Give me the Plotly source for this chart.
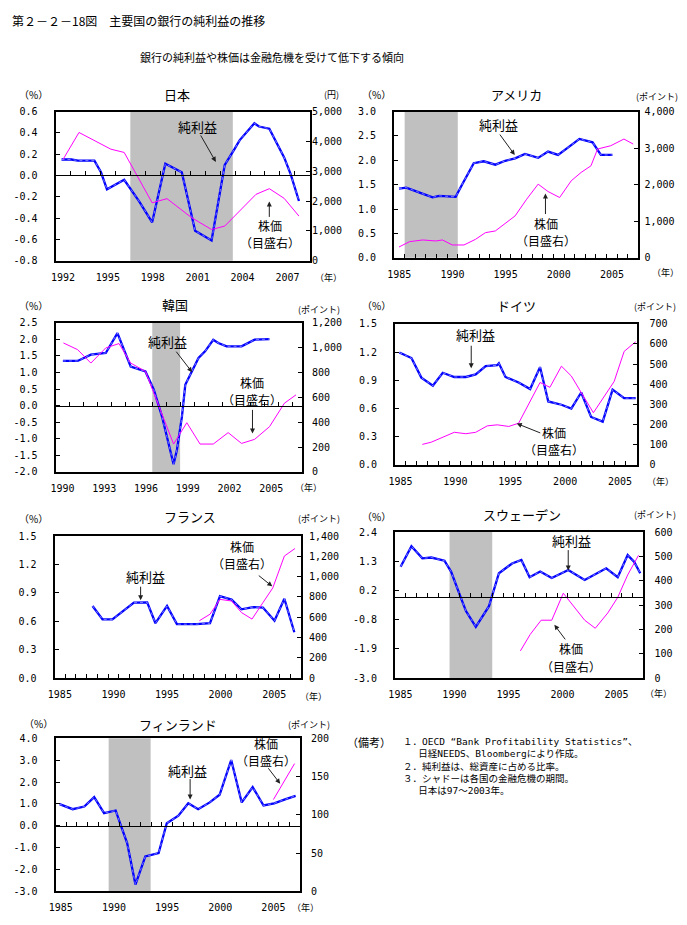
import plotly.graph_objects as go

W, H = 687, 925

# ---------------- data ----------------
# 日本  純利益 (%), 株価 (円)
jp_np_x = [1991.9, 1992.56, 1993.0, 1994.1, 1994.54, 1994.94, 1996.09, 1997.08, 1997.96, 1998.84, 1999.94,
           2000.83, 2001.93, 2002.81, 2003.47, 2003.8, 2004.79, 2005.1, 2005.79, 2006.78, 2007.22, 2007.77]
jp_np_y = [0.15, 0.15, 0.14, 0.14, 0.03, -0.13, -0.04, -0.24, -0.44, 0.11, 0.03,
           -0.52, -0.61, 0.10, 0.25, 0.33, 0.49, 0.46, 0.44, 0.17, 0.01, -0.24]
jp_sp_x = [1992.01, 1993.07, 1995.2, 1996.09, 1997.96, 1998.95, 2000.6, 2001.93, 2002.81, 2004.9, 2005.79,
           2006.78, 2007.77]
jp_sp_y = [3400, 4300, 3740, 3630, 1940, 2080, 1440, 1045, 1160, 2225, 2415, 2090, 1495]

# アメリカ
us_np_x = [1984.97, 1985.65, 1987.36, 1988.13, 1988.75, 1990.3, 1990.92, 1992.0, 1992.94, 1994.03, 1994.96,
           1995.89, 1996.82, 1998.06, 1998.99, 1999.93, 2000.86, 2001.94, 2003.18, 2003.8, 2003.96, 2005.05]
us_np_y = [1.42, 1.44, 1.30, 1.24, 1.27, 1.25, 1.51, 1.94, 1.98, 1.91, 1.99,
           2.04, 2.13, 2.05, 2.18, 2.11, 2.26, 2.44, 2.37, 2.16, 2.11, 2.11]
us_sp_x = [1984.97, 1985.96, 1987.2, 1988.44, 1989.06, 1989.99, 1991.08, 1992.17, 1993.1, 1994.03, 1995.89,
           1996.98, 1998.06, 1998.99, 2000.08, 2001.17, 2002.1, 2003.03, 2003.65, 2004.89, 2006.13, 2007.0]
us_sp_y = [293, 439, 485, 458, 485, 348, 348, 503, 686, 732, 1144,
           1602, 2014, 1812, 1648, 2105, 2334, 2517, 2975, 3066, 3249, 3112]

# 韓国
kr_np_x = [1990.03, 1991.09, 1992.04, 1993.11, 1993.95, 1994.9, 1995.96, 1996.56, 1997.15, 1997.98, 1998.22,
           1998.58, 1998.82, 1999.29, 1999.77, 2000.24, 2000.83, 2001.19, 2001.79, 2002.86, 2003.8, 2004.87]
kr_np_y = [1.35, 1.35, 1.54, 1.59, 2.19, 1.18, 1.03, 0.48, -0.33, -1.77, -1.34,
           -0.33, 0.63, 1.03, 1.44, 1.64, 1.99, 1.89, 1.79, 1.79, 1.99, 2.01]
kr_sp_x = [1990.07, 1991.09, 1992.04, 1993.11, 1994.06, 1994.9, 1995.96, 1997.15, 1997.98, 1998.93, 1999.88,
           2000.83, 2001.9, 2002.86, 2003.8, 2004.87, 2005.94, 2006.77]
kr_sp_y = [1038, 984, 876, 998, 1033, 876, 809, 458, 224, 396, 224, 224, 316, 229, 262, 364, 553, 620]

# ドイツ
de_np_x = [1984.89, 1986.0, 1986.9, 1987.95, 1988.85, 1989.9, 1990.95, 1991.85, 1992.76, 1993.81, 1993.96,
           1994.56, 1995.76, 1996.81, 1997.71, 1998.46, 1999.66, 2000.56, 2001.46, 2002.36, 2003.42, 2004.32,
           2005.37, 2006.42]
de_np_y = [1.195, 1.136, 0.928, 0.842, 0.98, 0.935, 0.935, 0.963, 1.05, 1.06, 1.08,
           0.935, 0.876, 0.807, 1.04, 0.675, 0.64, 0.60, 0.77, 0.51, 0.46, 0.80, 0.71, 0.71]
de_sp_x = [1986.99, 1987.8, 1989.9, 1990.95, 1991.85, 1992.91, 1993.81, 1994.86, 1995.76, 1997.71, 1998.61,
           1999.66, 2000.56, 2002.57, 2004.46, 2005.37, 2006.42]
de_sp_y = [102, 113, 162, 155, 162, 194, 199, 191, 207, 409, 385, 490, 441, 259, 414, 563, 611]

# フランス
fr_np_x = [1988.05, 1988.98, 1989.9, 1991.91, 1993.15, 1993.92, 1995.0, 1995.92, 1997.77, 1999.01, 1999.94,
           2001.02, 2001.94, 2003.02, 2003.95, 2005.03, 2005.95, 2006.88]
fr_np_y = [0.762, 0.62, 0.62, 0.797, 0.80, 0.58, 0.762, 0.57, 0.57, 0.58, 0.866,
           0.83, 0.727, 0.75, 0.745, 0.606, 0.838, 0.485]
fr_sp_x = [1998.02, 1999.01, 1999.94, 2001.02, 2001.94, 2002.93, 2003.95, 2004.87, 2005.95, 2006.94]
fr_sp_y = [566, 630, 776, 760, 647, 582, 744, 889, 1203, 1277]

# スウェーデン
se_np_x = [1985.02, 1986.02, 1987.03, 1987.86, 1989.08, 1989.69, 1990.61, 1991.07, 1991.98, 1993.2, 1994.12,
           1995.34, 1996.2, 1996.96, 1997.94, 1999.01, 2000.54, 2002.06, 2004.05, 2005.12, 2006.04, 2006.65,
           2007.2]
se_np_y = [1.12, 1.88, 1.43, 1.46, 1.34, 0.94, -0.04, -0.52, -1.10, -0.34, 0.88,
           1.24, 1.37, 0.73, 0.94, 0.70, 1.0, 0.63, 1.06, 0.73, 1.55, 1.30, 0.88]
se_sp_x = [1996.11, 1997.02, 1998.03, 1999.01, 2000.08, 2000.99, 2002.06, 2003.04, 2004.2, 2005.12, 2006.04,
           2007.05]
se_sp_y = [112, 180, 238, 238, 349, 298, 238, 205, 268, 332, 424, 505]

# フィンランド
fi_np_x = [1984.88, 1986.12, 1987.21, 1988.14, 1989.07, 1990.16, 1990.62, 1991.24, 1992.02, 1992.95, 1994.2,
           1994.97, 1996.06, 1996.99, 1997.92, 1999.01, 1999.94, 2001.03, 2002.02, 2003.05, 2004.07, 2005.07,
           2006.16, 2007.09]
fi_np_y = [0.99, 0.76, 0.88, 1.31, 0.58, 0.70, 0.05, -0.79, -2.69, -1.40, -1.25,
           0.12, 0.46, 1.03, 0.76, 1.07, 1.42, 3.01, 1.07, 1.77, 0.93, 1.03, 1.22, 1.37]
fi_sp_x = [2005.0, 2006.0, 2006.99]
fi_sp_y = [120, 143, 167]

# tick labels
jp_years = [1992, 1995, 1998, 2001, 2004, 2007]
kr_years = [1990, 1993, 1996, 1999, 2002, 2005]
std_years = [1985, 1990, 1995, 2000, 2005]
se_left_vals = [-3.0, -1.92, -0.84, 0.24, 1.32, 2.4]
se_left_text = ["-3.0", "-1.9", "-0.8", "0.2", "1.3", "2.4"]

# crisis periods (shaded)
jp_crisis = (1996.5, 2003.35)
us_crisis = (1985.5, 1990.5)
kr_crisis = (1996.45, 1998.45)
se_crisis = (1989.55, 1993.5)
fi_crisis = (1989.5, 1993.45)


def frange(a, b, s):
    n = int(round((b - a) / s))
    return [round(a + i * s, 6) for i in range(n + 1)]


# ---------------- panel layout ----------------
panels = [
    dict(title="日本", box=(49, 107, 306, 258), xr=(1991.5, 2008.5), xt=jp_years,
         npx=jp_np_x, npy=jp_np_y, spx=jp_sp_x, spy=jp_sp_y,
         yl=(-0.8, 0.6), ylv=frange(-0.8, 0.6, 0.2), ylt=None,
         yr=(0, 5000), yrd=1000, rstand=1, shade=jp_crisis,
         tpos=(172, 90), pct=(27, 90), unit="(円)", upos=(328, 90), ypos=(325, 275),
         np_lab=(192, 122), np_arr=((195, 130), (211, 158)),
         sp_lab=(266, 231), sp_arr=((265, 215), (265, 198))),
    dict(title="アメリカ", box=(391, 107, 638, 255), xr=(1984.5, 2007.5), xt=std_years,
         npx=us_np_x, npy=us_np_y, spx=us_sp_x, spy=us_sp_y,
         yl=(0, 3.0), ylv=frange(0, 3.0, 0.5), ylt=None,
         yr=(0, 4000), yrd=1000, rstand=5, shade=us_crisis,
         tpos=(515, 90), pct=(373, 90), unit="(ポイント)", upos=(657, 92), ypos=(665, 270),
         np_lab=(497, 120), np_arr=((497, 129), (513, 151)),
         sp_lab=(545, 229), sp_arr=((544, 212), (544, 190))),
    dict(title="韓国", box=(49, 321, 298, 472), xr=(1989.5, 2007.2), xt=kr_years,
         npx=kr_np_x, npy=kr_np_y, spx=kr_sp_x, spy=kr_sp_y,
         yl=(-2.0, 2.5), ylv=frange(-2.0, 2.5, 0.5), ylt=None,
         yr=(0, 1200), yrd=200, rstand=9, shade=kr_crisis,
         tpos=(170, 302), pct=(27, 303), unit="(ポイント)", upos=(315, 307), ypos=(305, 488),
         np_lab=(162, 340), np_arr=((170, 349), (187, 371)),
         sp_lab=(248, 390), sp_arr=((248, 408), (248, 433))),
    dict(title="ドイツ", box=(392, 322, 636, 465), xr=(1984.5, 2006.5), xt=std_years,
         npx=de_np_x, npy=de_np_y, spx=de_sp_x, spy=de_sp_y,
         yl=(0, 1.5), ylv=frange(0, 1.5, 0.3), ylt=None,
         yr=(0, 700), yrd=100, rstand=12, shade=None,
         tpos=(515, 303), pct=(373, 303), unit="(ポイント)", upos=(655, 304), ypos=(660, 482),
         np_lab=(473, 333), np_arr=((469, 343), (469, 367)),
         sp_lab=(553, 441), sp_arr=((540, 433), (515, 423))),
    dict(title="フランス", box=(48, 537, 297, 681), xr=(1984.5, 2007.5), xt=std_years,
         npx=fr_np_x, npy=fr_np_y, spx=fr_sp_x, spy=fr_sp_y,
         yl=(0, 1.5), ylv=frange(0, 1.5, 0.3), ylt=None,
         yr=(0, 1400), yrd=200, rstand=7, shade=None,
         tpos=(185, 517), pct=(27, 519), unit="(ポイント)", upos=(315, 519), ypos=(310, 700),
         np_lab=(140, 578), np_arr=((135, 587), (135, 602)),
         sp_lab=(237, 556), sp_arr=((253, 576), (268, 588))),
    dict(title="スウェーデン", box=(392, 533, 643, 681), xr=(1984.5, 2007.5), xt=std_years,
         npx=se_np_x, npy=se_np_y, spx=se_sp_x, spy=se_sp_y,
         yl=(-3.0, 2.4), ylv=se_left_vals, ylt=se_left_text,
         yr=(0, 600), yrd=100, rstand=10, shade=se_crisis,
         tpos=(520, 515), pct=(373, 517), unit="(ポイント)", upos=(655, 515), ypos=(658, 697),
         np_lab=(570, 542), np_arr=((567, 550), (567, 572)),
         sp_lab=(570, 660), sp_arr=((565, 643), (553, 627))),
    dict(title="フィンランド", box=(49, 742, 296, 897), xr=(1984.5, 2007.5), xt=std_years,
         npx=fi_np_x, npy=fi_np_y, spx=fi_sp_x, spy=fi_sp_y,
         yl=(-3.0, 4.0), ylv=frange(-3.0, 4.0, 1.0), ylt=None,
         yr=(0, 200), yrd=50, rstand=10, shade=fi_crisis,
         tpos=(173, 728), pct=(32, 727), unit="(ポイント)", upos=(305, 728), ypos=(302, 913),
         np_lab=(182, 775), np_arr=((185, 782), (185, 804)),
         sp_lab=(262, 756), sp_arr=((263, 771), (276, 788))),
]

TICKFONT = dict(family="DejaVu Sans Mono, monospace", size=10, color="black")
JF = "Noto Sans CJK JP"
NOTEF = "DejaVu Sans Mono, Noto Sans CJK JP"
BLUE = "#0000FF"
MAGENTA = "#FF00FF"


def akey(c, n):
    return f"{c}axis" if n == 1 else f"{c}axis{n}"


def aref(c, n):
    return c if n == 1 else f"{c}{n}"


def P(x, y):
    return x / W, 1 - y / H


fig = go.Figure()
layout = dict(width=W, height=H, margin=dict(l=0, r=0, t=0, b=0),
              paper_bgcolor="white", plot_bgcolor="rgba(0,0,0,0)", showlegend=False)
shapes = []
annotations = []


def text(t, x, y, size=13, xanchor="center", family=JF, align="center"):
    px, py = P(x, y)
    annotations.append(dict(text=t, x=px, y=py, xref="paper", yref="paper", showarrow=False,
                            xanchor=xanchor, yanchor="middle", align=align,
                            font=dict(family=family, size=size, color="black")))


def arrow(tail, head):
    hx, hy = P(*head)
    annotations.append(dict(text="", x=hx, y=hy, xref="paper", yref="paper", showarrow=True,
                            ax=tail[0] - head[0], ay=tail[1] - head[1], axref="pixel", ayref="pixel",
                            arrowhead=2, arrowsize=1, arrowwidth=1, arrowcolor="#202020"))


for i, p in enumerate(panels):
    k = i + 1
    xa, xb, yl, yr = 2 * k - 1, 2 * k, 2 * k - 1, 2 * k
    L, T, R, B = p["box"]
    ydom = [1 - B / H, 1 - T / H]
    y0, y1 = p["yl"]
    zero_pos = ydom[0] + (0 - y0) / (y1 - y0) * (ydom[1] - ydom[0])

    layout[akey("x", xa)] = dict(domain=[L / W, R / W], anchor=aref("y", yl), range=list(p["xr"]),
                                 tickmode="array", tickvals=p["xt"], ticktext=[str(v) for v in p["xt"]],
                                 ticks="", showline=True, mirror=True, linecolor="black", linewidth=2,
                                 showgrid=False, zeroline=False, tickfont=TICKFONT, ticklabelstandoff=6,
                                 fixedrange=True)
    layout[akey("x", xb)] = dict(overlaying=aref("x", xa), anchor="free", position=zero_pos,
                                 range=list(p["xr"]), tickmode="linear", tick0=p["xr"][0], dtick=1,
                                 ticks="inside", ticklen=4, tickcolor="black", tickwidth=1,
                                 showticklabels=False, showline=True, linecolor="black", linewidth=1,
                                 showgrid=False, zeroline=False, fixedrange=True)
    layout[akey("y", yl)] = dict(domain=ydom, anchor=aref("x", xa), range=[y0, y1],
                                 tickmode="array", tickvals=p["ylv"],
                                 ticktext=p["ylt"] if p["ylt"] else [f"{v:.1f}" for v in p["ylv"]],
                                 ticks="inside", ticklen=4, tickcolor="black", showline=True, mirror=True,
                                 linecolor="black", linewidth=2, showgrid=False, zeroline=False,
                                 tickfont=TICKFONT, ticklabelstandoff=14, fixedrange=True)
    layout[akey("y", yr)] = dict(overlaying=aref("y", yl), side="right", anchor=aref("x", xa),
                                 range=list(p["yr"]), tickmode="linear", tick0=0, dtick=p["yrd"],
                                 tickformat=",", ticks="inside", ticklen=4, tickcolor="black",
                                 showline=False, showgrid=False, zeroline=False, tickfont=TICKFONT,
                                 ticklabelstandoff=p["rstand"], fixedrange=True)

    if p["shade"]:
        shapes.append(dict(type="rect", xref=aref("x", xa), yref=f"{aref('y', yl)} domain",
                           x0=p["shade"][0], x1=p["shade"][1], y0=0, y1=1,
                           fillcolor="#C0C0C0", line=dict(width=0), layer="below"))

    # empty trace that hosts the zero-line tick axis
    fig.add_trace(go.Scatter(x=[], y=[], xaxis=aref("x", xb), yaxis=aref("y", yl), hoverinfo="skip"))
    # 純利益
    fig.add_trace(go.Scatter(x=p["npx"], y=p["npy"], mode="lines", xaxis=aref("x", xa), yaxis=aref("y", yl),
                             line=dict(color=BLUE, width=2.3), hoverinfo="skip"))
    fig.add_trace(go.Scatter(x=p["npx"], y=p["npy"], mode="lines", xaxis=aref("x", xa), yaxis=aref("y", yl),
                             line=dict(color="white", width=0.6, dash="dot"), opacity=0.8, hoverinfo="skip"))
    # 株価
    fig.add_trace(go.Scatter(x=p["spx"], y=p["spy"], mode="lines", xaxis=aref("x", xa), yaxis=aref("y", yr),
                             line=dict(color=MAGENTA, width=1), hoverinfo="skip"))

    text(p["title"], *p["tpos"], size=13)
    text("（%）", *p["pct"], size=10)
    text(p["unit"], *p["upos"], size=9)
    text("（年）", *p["ypos"], size=9)
    text("純利益", *p["np_lab"], size=13)
    arrow(*p["np_arr"])
    sx, sy = p["sp_lab"]
    text("株価", sx, sy - 8.8, size=12)
    text("（目盛右）", sx, sy + 8.8, size=12)
    arrow(*p["sp_arr"])

# header and notes
text("第２－２－18図　主要国の銀行の純利益の推移", 3, 15, size=12, xanchor="left")
text("銀行の純利益や株価は金融危機を受けて低下する傾向", 268, 52, size=11)
text("（備考）", 341, 746, size=11, xanchor="left")
text("１．OECD “Bank Profitability Statistics”、<br>"
     "　 日経NEEDS、Bloombergにより作成。<br>"
     "２．純利益は、総資産に占める比率。<br>"
     "３．シャドーは各国の金融危機の期間。<br>"
     "　 日本は97～2003年。",
     398, 770, size=9.5, xanchor="left", align="left", family=NOTEF)

layout["shapes"] = shapes
layout["annotations"] = annotations
fig.update_layout(**layout)
fig.write_html("out.html")
